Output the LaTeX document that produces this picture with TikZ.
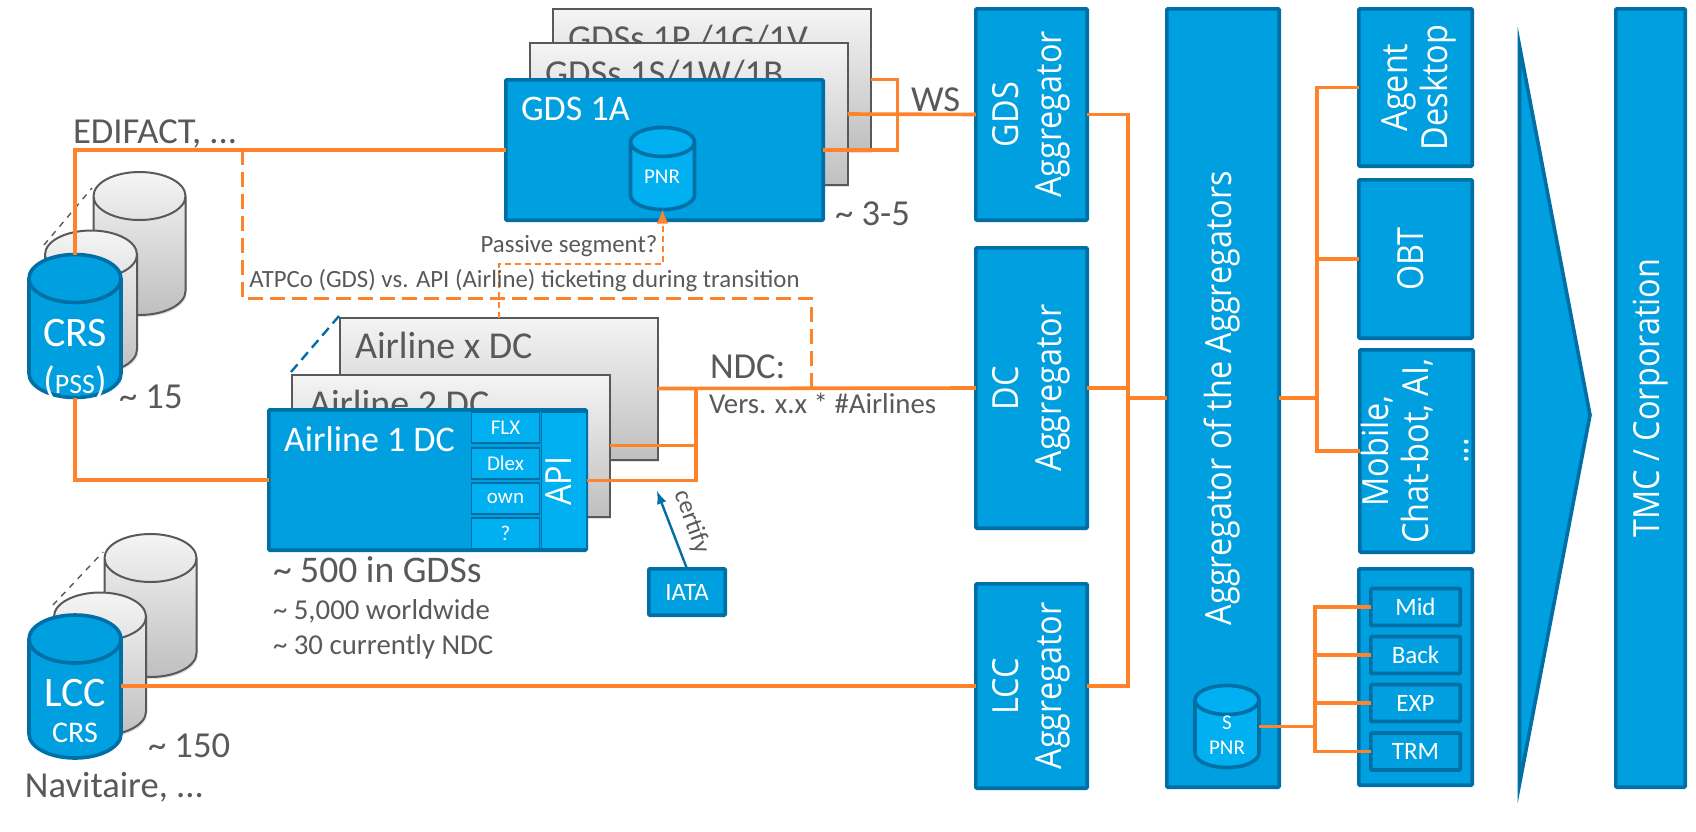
\documentclass[tikz,border=0pt]{standalone}
\usepackage{fontspec}
\setmainfont{Carlito}
\newfontfamily\rotfont{Open Sans}
\usetikzlibrary{arrows.meta,calc,shapes.geometric,shadows}
\definecolor{blockblue}{HTML}{009FE0}
\definecolor{lightblue}{HTML}{00B0F0}
\definecolor{edgeblue}{HTML}{006FA6}
\definecolor{linkorange}{HTML}{FF832A}
\definecolor{textgray}{HTML}{595959}
\newcommand{\vlabel}[1]{\makebox[0pt]{\rotatebox{90}{\scalebox{0.9}[1]{\begin{tabular}{@{}c@{}}#1\end{tabular}}}}}
\newcommand{\fsz}[1]{\fontsize{#1}{#1}\selectfont}

\begin{document}
\begin{tikzpicture}[x=0.5pt,y=-0.5pt,every node/.style={outer sep=0pt,inner sep=0pt},
        block/.style={draw=edgeblue,line width=1.8pt,fill=blockblue,text=white,rounded corners=0.5pt,
        font=\rotfont\fontsize{18}{21.5}\selectfont,align=center},
        aggbox/.style={block,minimum width=55.7pt,minimum height=#1},
        sidebox/.style={block,font=\rotfont\fontsize{18}{20}\selectfont,minimum width=56.7pt,minimum height=#1},
        cellbox/.style={draw=edgeblue,line width=0.9pt,fill=lightblue,text=white,font=\fsz{10.5},
        minimum width=34pt,minimum height=15.5pt},
        subbox/.style={block,font=\fsz{12.5},minimum width=44.7pt,minimum height=18.5pt},
        softshadow/.style={drop shadow={shadow xshift=0.6pt,shadow yshift=-1pt,opacity=0.25}},
        paper/.style={draw=textgray,line width=1pt,top color=black!4,bottom color=black!25,softshadow,
        minimum width=159pt,minimum height=71pt},
        drum/.style={shape=cylinder,anchor=shape center,shape border rotate=90,aspect=1,inner sep=12pt,draw=edgeblue,line width=1.8pt,
        fill=blockblue,minimum width=46pt,minimum height=71.5pt},
        greydrum/.style={drum,draw=textgray,line width=1pt,top color=black!4,bottom color=black!25,softshadow},
        smalldrum/.style={drum,inner sep=7.25pt,fill=lightblue,minimum width=32pt,minimum height=41pt},
        link/.style={draw=linkorange,line width=1.8pt},
        tlink/.style={link,line width=1.5pt,dash pattern=on 7.5pt off 3.5pt},
        passive/.style={draw=linkorange,line width=1pt,dash pattern=on 3pt off 2pt},
        note/.style={text=textgray,font=\fsz{18.3},anchor=base west},
        minor/.style={text=textgray,font=\fsz{14.4},anchor=base west},
        white text/.style={text=white,font=\fsz{#1}}]
    \useasboundingbox (0,0) rectangle (1696,831);

    % CRS drums
    \node[greydrum] (crsc) at (139.5,243.5) {};
    \node[greydrum] (crsb) at (91,302) {};
    \draw[draw=textgray,line width=0.7pt,dashed] (44,245) coordinate(crsaux) -- (92,188) coordinate(crsaux');
    \node[drum] (crs) at (75,326) {};
    \node[white text=21] (crstxt) at (75,333) {CRS};
    \node[white text=14] (psstxt) at (75,382) {{\fsz{19}(}PSS{\fsz{19})}};
    \node[note] (crsnum) at (119,408) {\textasciitilde\ 15};

    % LCC drums
    \node[greydrum] (lccc) at (150.5,605.5) {};
    \node[greydrum] (lccb) at (100,664) {};
    \draw[draw=textgray,line width=0.7pt,dashed] (53,605) coordinate(lccaux) -- (103,552) coordinate(lccaux');
    \node[drum] (lcc) at (75,686.5) {};
    \node[white text=21] (lcctxt) at (75,693) {LCC};
    \node[white text=15] (lcccrs) at (75,733) {CRS};
    \node[note] (lccnum) at (148,757) {\textasciitilde\ 150};
    \node[note] (navi) at (25,797) {Navitaire, ...};

    % GDS stack
    \node[paper] (gdsb) at (711.5,79.5) {};
    \node[note] (gdsbtxt) at (568,50) {GDSs 1P /1G/1V};
    \node[paper] (gdsm) at (688.5,114) {};
    \node[note] (gdsmtxt) at (545,85) {GDSs 1S/1W/1B};
    \node[block,minimum width=158.7pt,minimum height=70.2pt] (gdsa) at (664.5,150) {};
    \node[white text=18,anchor=base west] (gdsatxt) at (521,120) {GDS 1A};
    \node[smalldrum] (pnr) at (662.5,168.5) {};
    \node[white text=10.5] (pnrtxt) at (662,177) {PNR};
    \node[note] (gdsnum) at (835,225) {\textasciitilde\ 3-5};

    % Airline stack
    \node[paper] (airx) at (498.5,388.5) {};
    \node[note,font=\fsz{19}] (airxtxt) at (355,358) {Airline x DC};
    \node[paper] (air2) at (450.5,445.5) {};
    \draw[draw=edgeblue,line width=1.2pt,dash pattern=on 5pt off 3pt] (291,372) coordinate(airaux) -- (339,316) coordinate(airaux');
    \node[note,font=\fsz{19}] (air2txt) at (309,416) {Airline 2 DC};
    \node[block,minimum width=158.7pt,minimum height=70.2pt] (air1) at (427.5,480) {};
    \node[white text=18,anchor=base west] (air1txt) at (284,451) {Airline 1 DC};
    \node[cellbox] (flx) at (505.5,427.5) {FLX};
    \node[cellbox] (dlex) at (505.5,463.5) {Dlex};
    \node[cellbox] (own) at (505.5,498.5) {own};
    \node[cellbox] (unk) at (505.5,533.5) {?};
    \node[cellbox,minimum width=22.5pt,minimum height=68.5pt] (api) at (564,480.5) {};
    \node[text=white,font=\rotfont\fsz{18}] (apitxt) at (564,481) {\vlabel{API}};
    \node[note,font=\fsz{18.8}] (airnum) at (273,582) {\textasciitilde\ 500 in GDSs};
    \node[minor] (airww) at (273,619) {\textasciitilde\ 5,000 worldwide};
    \node[minor] (airndc) at (273,654) {\textasciitilde\ 30 currently NDC};

    % IATA
    \node[subbox,minimum width=38.2pt,minimum height=23.2pt] (iata) at (687,592) {IATA};
    \coordinate (certtip) at (657,491);
    \draw[draw=edgeblue,line width=1.2pt,-latex] (iata.north) -- (certtip);
    \node[text=textgray,font=\fsz{12.5},rotate=-70] (certtxt) at (692,522) {certify};

    % Aggregators
    \node[aggbox=105.7pt] (gdsagg) at (1031.5,114.5) {\vlabel{GDS\\Aggregator}};
    \node[aggbox=140.2pt] (dcagg) at (1031.5,388) {\vlabel{DC\\Aggregator}};
    \node[aggbox=102.2pt] (lccagg) at (1031.5,686) {\vlabel{LCC\\Aggregator}};
    \node[block,minimum width=56.2pt,minimum height=389.2pt] (bigagg) at (1223,398) {\vlabel{Aggregator of the Aggregators}};
    \node[smalldrum] (spnr) at (1227,726.5) {};
    \node[white text=10.5] (spnrs) at (1227,723) {S};
    \node[white text=10.5] (spnrp) at (1227,748) {PNR};

    % Front ends
    \node[sidebox=78.7pt] (agent) at (1415.5,87.5) {\hspace*{4pt}\vlabel{Agent\\Desktop}};
    \node[sidebox=79.2pt] (obt) at (1415.5,259) {\vlabel{OBT}};
    \node[sidebox=101.2pt] (mobile) at (1416.5,451) {\hspace*{4pt}\vlabel{Mobile,\\Chat-bot, AI,\\...}};
    \node[sidebox=108.2pt] (backgrp) at (1415.5,677) {};
    \node[subbox] (mid) at (1415.5,607) {Mid};
    \node[subbox] (back) at (1415.5,655) {Back};
    \node[subbox] (exp) at (1415.5,703) {EXP};
    \node[subbox] (trm) at (1415.5,751.5) {TRM};

    % Chevron and end box
    \draw[draw=edgeblue,line width=1.8pt,fill=blockblue,line join=miter,miter limit=20] (1519.5,46) -- (1590,415) -- (1519.5,784) -- cycle;
    \node[block,minimum width=34.7pt,minimum height=389.2pt] (tmc) at (1650.5,398) {\vlabel{TMC / Corporation}};

    % Left links
    \draw[link] (gdsa.west) -| (crs.north);
    \draw[link] (crs.south) |- (air1.west);
    \draw[link] (lcc.east|-lccagg.west) -- (lccagg.west);
    \draw[link] (gdsm.east) -- (gdsagg.west);
    \draw[link] (gdsb.east) -- ++(27,0) |- (gdsa.east);
    \draw[link] (airx.east) -- (dcagg.west);
    \coordinate (ndcj) at (696,388);
    \draw[link] (air2.east) -- (ndcj|-air2.east);
    \draw[link] (api.east) -| (ndcj);

    % Dashed links
    \coordinate (ticka) at (242,150);
    \coordinate (tickb) at (811,388);
    \draw[tlink] (ticka) -- ++(0,148) -| (tickb);
    \draw[passive,-{Latex[length=7pt,width=6pt]}] (airx.north) -- ++(0,-54) -| (pnr.south);

    % Aggregator links
    \coordinate (aggj) at (1128,398);
    \draw[link] (gdsagg.east) -| (aggj);
    \draw[link] (lccagg.east) -| (aggj);
    \draw[link] (dcagg.east) -- (aggj|-dcagg.east);
    \draw[link] (aggj) -- (bigagg.west);
    \coordinate (frontj) at (1317,398);
    \draw[link] (bigagg.east) -- (frontj);
    \draw[link] (agent.west) -| (frontj);
    \draw[link] (obt.west) -| (frontj);
    \draw[link] (mobile.west) -| (frontj);
    \coordinate (backj) at (1315,726.5);
    \draw[link] (spnr.east|-backj) -- (backj);
    \draw[link] (mid.west) -| (backj);
    \draw[link] (back.west) -| (backj);
    \draw[link] (exp.west) -| (backj);
    \draw[link] (trm.west) -| (backj);

    % Labels
    \node[note] (ediftxt) at (73,143) {EDIFACT, ...};
    \node[text=textgray,font=\fsz{12.4},anchor=center] (passtxt) at (569,246) {Passive segment?};
    \node[text=textgray,font=\fsz{12.4},anchor=center] (atptxt) at (524.5,281) {ATPCo (GDS) vs. API (Airline) ticketing during transition};
    \node[note] (wstxt) at (911,111) {WS};
    \node[note] (ndctxt) at (710,378) {NDC:};
    \node[minor] (verstxt) at (709,413) {Vers. x.x * \#Airlines};
\end{tikzpicture}
\end{document}
